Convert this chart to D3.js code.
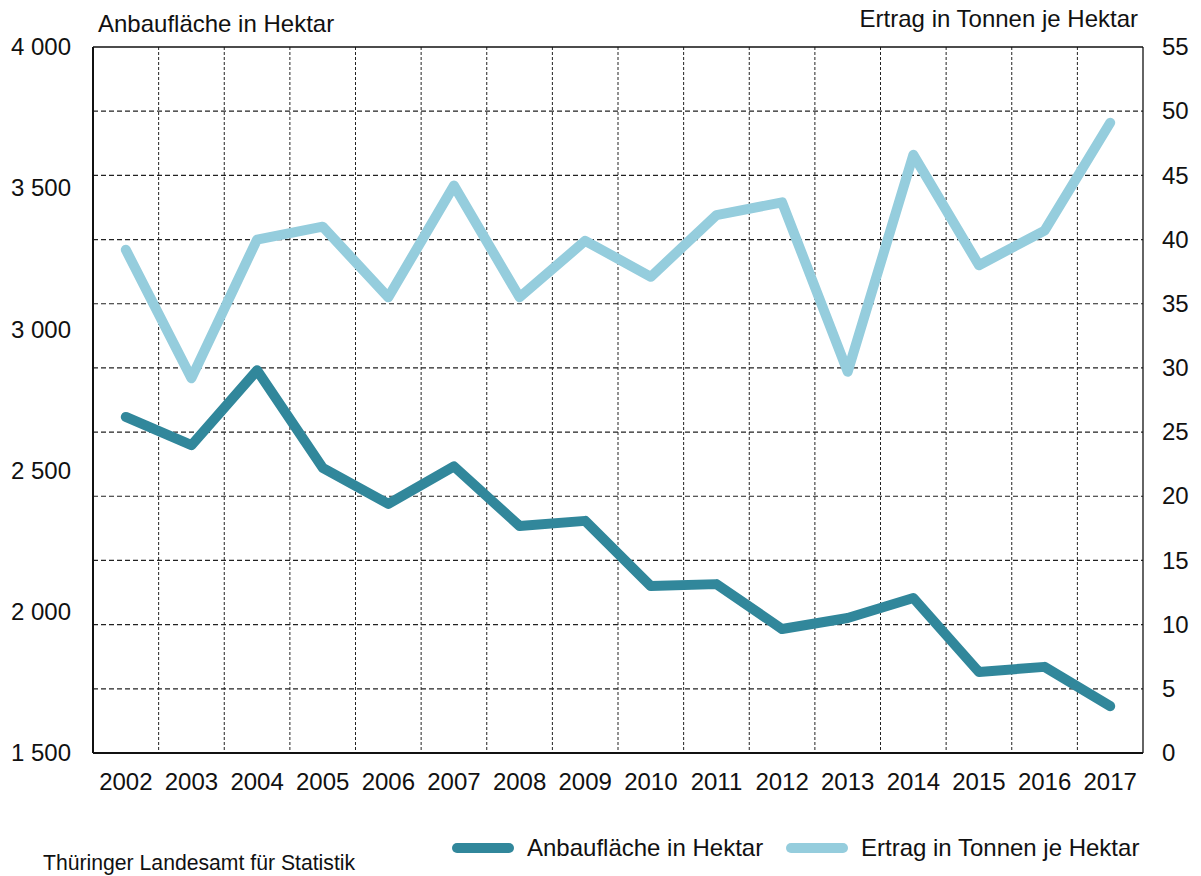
<!DOCTYPE html>
<html>
<head>
<meta charset="utf-8">
<script src="https://cdn.jsdelivr.net/npm/d3@7"></script>
<style>
  body { margin: 0; background: #fff; }
  svg { font-family: "Liberation Sans", Arial, sans-serif; }
</style>
</head>
<body>
<div id="chart"></div>
<script>
// data
const years = ["2002","2003","2004","2005","2006","2007","2008","2009","2010","2011","2012","2013","2014","2015","2016","2017"];
const anbauflaeche = [2690, 2590, 2855, 2510, 2382, 2515, 2304, 2322, 2091, 2098, 1939, 1978, 2049, 1787, 1805, 1666];
const ertrag = [39.2, 29.2, 40.0, 41.0, 35.5, 44.2, 35.5, 39.9, 37.1, 41.9, 42.9, 29.7, 46.6, 38.0, 40.7, 49.1];
const leftTicks = [1500, 2000, 2500, 3000, 3500, 4000];
const rightTicks = [0, 5, 10, 15, 20, 25, 30, 35, 40, 45, 50, 55];

const width = 1201, height = 876;
const margin = {top: 47, right: 58, bottom: 123, left: 93};
const innerW = width - margin.left - margin.right;
const innerH = height - margin.top - margin.bottom;
const darkColor = "#31879b";
const lightColor = "#95cddd";
const fontSize = 24;
const fmt = d => d3.format(",")(d).replace(/,/g, " ");

const svg = d3.select("#chart").append("svg")
    .attr("width", width)
    .attr("height", height);

const g = svg.append("g")
    .attr("transform", `translate(${margin.left},${margin.top})`);

const x = d3.scaleBand().domain(years).range([0, innerW]);
const yLeft = d3.scaleLinear().domain([1500, 4000]).range([innerH, 0]);
const yRight = d3.scaleLinear().domain([0, 55]).range([innerH, 0]);

// horizontal grid follows the right axis
g.append("g")
    .selectAll("line")
    .data(rightTicks.slice(1, -1))
    .enter().append("line")
    .attr("x1", 0).attr("x2", innerW)
    .attr("y1", d => yRight(d)).attr("y2", d => yRight(d))
    .attr("stroke", "#222").attr("stroke-width", 1.2)
    .attr("stroke-dasharray", "5,3");

// vertical grid at category borders
g.append("g")
    .selectAll("line")
    .data(years.slice(1))
    .enter().append("line")
    .attr("x1", d => x(d)).attr("x2", d => x(d))
    .attr("y1", 0).attr("y2", innerH)
    .attr("stroke", "#222").attr("stroke-width", 1)
    .attr("stroke-dasharray", "3,2");

// frame
g.append("line").attr("x1", 0).attr("x2", innerW).attr("y1", 0).attr("y2", 0)
    .attr("stroke", "#111").attr("stroke-width", 1.3);
g.append("line").attr("x1", innerW).attr("x2", innerW).attr("y1", 0).attr("y2", innerH)
    .attr("stroke", "#111").attr("stroke-width", 1.3);
g.append("line").attr("x1", 0).attr("x2", 0).attr("y1", 0).attr("y2", innerH)
    .attr("stroke", "#111").attr("stroke-width", 2);
g.append("line").attr("x1", 0).attr("x2", innerW).attr("y1", innerH).attr("y2", innerH)
    .attr("stroke", "#111").attr("stroke-width", 2);

// axes
const leftAxis = g.append("g")
    .call(d3.axisLeft(yLeft).tickValues(leftTicks).tickFormat(fmt).tickSize(0).tickPadding(22));
leftAxis.select(".domain").remove();
leftAxis.selectAll("text").attr("font-size", fontSize).attr("fill", "#111");

const rightAxis = g.append("g")
    .attr("transform", `translate(${innerW},0)`)
    .call(d3.axisRight(yRight).tickValues(rightTicks).tickSize(0).tickPadding(19));
rightAxis.select(".domain").remove();
rightAxis.selectAll("text").attr("font-size", fontSize).attr("fill", "#111");

const bottomAxis = g.append("g")
    .attr("transform", `translate(0,${innerH})`)
    .call(d3.axisBottom(x).tickSize(0).tickPadding(20));
bottomAxis.select(".domain").remove();
bottomAxis.selectAll("text").attr("font-size", fontSize).attr("fill", "#111");

[leftAxis, rightAxis, bottomAxis].forEach(a => a.attr("font-family", null).attr("font-size", null));

// lines
const lineLeft = d3.line()
    .x((d, i) => x(years[i]) + x.bandwidth() / 2)
    .y(d => yLeft(d));
const lineRight = d3.line()
    .x((d, i) => x(years[i]) + x.bandwidth() / 2)
    .y(d => yRight(d));

g.append("path")
    .datum(ertrag)
    .attr("d", lineRight)
    .attr("fill", "none")
    .attr("stroke", lightColor)
    .attr("stroke-width", 10)
    .attr("stroke-linecap", "round")
    .attr("stroke-linejoin", "round");

g.append("path")
    .datum(anbauflaeche)
    .attr("d", lineLeft)
    .attr("fill", "none")
    .attr("stroke", darkColor)
    .attr("stroke-width", 10)
    .attr("stroke-linecap", "round")
    .attr("stroke-linejoin", "round");

// axis titles
svg.append("text")
    .attr("x", 98).attr("y", 32)
    .attr("font-size", fontSize).attr("fill", "#111")
    .text("Anbaufläche in Hektar");
svg.append("text")
    .attr("x", 1138).attr("y", 27)
    .attr("text-anchor", "end")
    .attr("font-size", fontSize).attr("fill", "#111")
    .text("Ertrag in Tonnen je Hektar");

// legend
const legendItems = [
    {label: "Anbaufläche in Hektar", color: darkColor, x: 457},
    {label: "Ertrag in Tonnen je Hektar", color: lightColor, x: 791}
];
const legend = svg.append("g").selectAll("g")
    .data(legendItems)
    .enter().append("g")
    .attr("transform", d => `translate(${d.x},848)`);
legend.append("line")
    .attr("x1", 0).attr("x2", 52)
    .attr("stroke", d => d.color)
    .attr("stroke-width", 10)
    .attr("stroke-linecap", "round");
legend.append("text")
    .attr("x", 70).attr("y", 8)
    .attr("font-size", fontSize).attr("fill", "#111")
    .text(d => d.label);

// source
svg.append("text")
    .attr("x", 43).attr("y", 870)
    .attr("font-size", 21.2).attr("fill", "#111")
    .text("Thüringer Landesamt für Statistik");
</script>
</body>
</html>
